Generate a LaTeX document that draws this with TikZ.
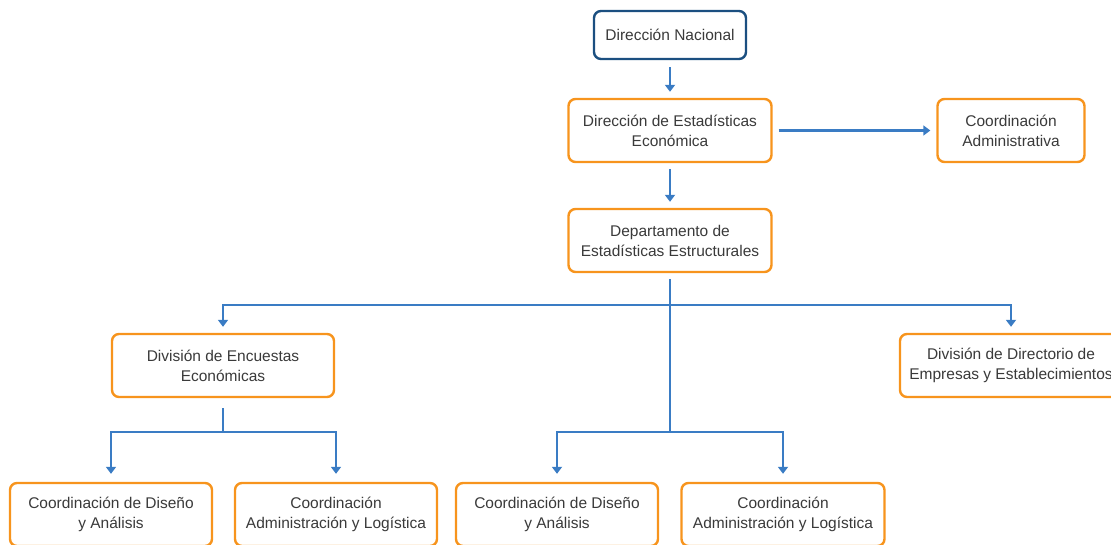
\documentclass[tikz,border=0pt]{standalone}
\usepackage{fontspec}
\setmainfont{Liberation Sans}
\usetikzlibrary{arrows.meta}
\definecolor{borange}{HTML}{F7941D}
\definecolor{dblue}{HTML}{1B4F80}
\definecolor{lblue}{HTML}{3A7CC4}
\definecolor{txt}{HTML}{3A3A3A}
\tikzset{
  box/.style={draw=borange, line width=2.4pt, rounded corners=7pt, fill=white,
    align=center, text=txt, font=\fontsize{15.5}{20}\selectfont, inner sep=0pt},
  topbox/.style={box, draw=dblue},
  conn/.style={draw=lblue, line width=2.2pt, -{Triangle[width=10pt,length=7pt]}},
  seg/.style={draw=lblue, line width=2.2pt}
}
\begin{document}
\begin{tikzpicture}[x=1pt,y=-1pt]
\useasboundingbox (0,0) rectangle (1111,544);
\node[topbox, minimum width=152pt, minimum height=48pt] (dn) at (670,35) {Dirección Nacional};
\node[box, minimum width=203pt, minimum height=63pt] (dee) at (670,130.5) {Dirección de Estadísticas\\Económica};
\node[box, minimum width=147pt, minimum height=63pt] (ca) at (1011,130.5) {Coordinación\\Administrativa};
\node[box, minimum width=203pt, minimum height=63pt] (dep) at (670,240.5) {Departamento de\\Estadísticas Estructurales};
\node[box, minimum width=222pt, minimum height=63pt] (dive) at (223,365.5) {División de Encuestas\\Económicas};
\node[box, minimum width=222pt, minimum height=63pt] (divd) at (1011,365.5) {División de Directorio de\\Empresas y Establecimientos};
\node[box, minimum width=202pt, minimum height=63pt] (c1) at (111,514.5) {Coordinación de Diseño\\y Análisis};
\node[box, minimum width=202pt, minimum height=63pt] (c2) at (336,514.5) {Coordinación\\Administración y Logística};
\node[box, minimum width=202pt, minimum height=63pt] (c3) at (557,514.5) {Coordinación de Diseño\\y Análisis};
\node[box, minimum width=203pt, minimum height=63pt] (c4) at (783,514.5) {Coordinación\\Administración y Logística};

\coordinate (j1) at (670,305);
\coordinate (j2) at (670,432);
\coordinate (j3) at (223,432);

\draw[conn] ([yshift=-7pt]dn.south) -- ([yshift=6pt]dee.north);
\draw[conn] ([xshift=6pt]dee.east) -- ([xshift=-6pt]ca.west);
\draw[conn] ([yshift=-6pt]dee.south) -- ([yshift=6pt]dep.north);
\draw[seg] ([yshift=-6pt]dep.south) -- (j1) -- (j2);
\draw[conn] (j1) -| ([yshift=6pt]dive.north);
\draw[conn] (j1) -| ([yshift=6pt]divd.north);
\draw[seg] ([yshift=-10pt]dive.south) -- (j3);
\draw[conn] (j3) -| ([yshift=8pt]c1.north);
\draw[conn] (j3) -| ([yshift=8pt]c2.north);
\draw[conn] (j2) -| ([yshift=8pt]c3.north);
\draw[conn] (j2) -| ([yshift=8pt]c4.north);
\end{tikzpicture}
\end{document}
